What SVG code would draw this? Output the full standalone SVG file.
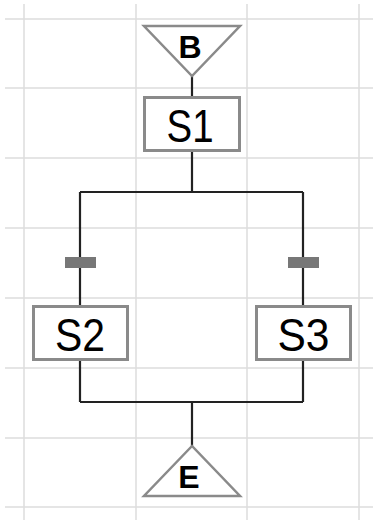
<svg xmlns="http://www.w3.org/2000/svg" width="373" height="520" viewBox="0 0 373 520">
<style>
.grid line{stroke:#dcdcdc;stroke-width:1.5}
.step{fill:#fff;stroke:#8a8a8a;stroke-width:3}
.term{fill:#fff;stroke:#8a8a8a;stroke-width:2.5;stroke-linejoin:miter}
.lbl{font-family:"Liberation Sans",Arial,sans-serif;font-size:46px;fill:#000;text-anchor:middle}
.tl{font-family:"Liberation Sans",Arial,sans-serif;font-size:32px;font-weight:bold;fill:#000;text-anchor:middle}
.conn{stroke:#222;stroke-width:2.2;fill:none}
.bar{fill:#777}
</style>
<rect width="373" height="520" fill="#fff"/>
<g class="grid">
<line x1="24" y1="4" x2="24" y2="520"/>
<line x1="136" y1="4" x2="136" y2="520"/>
<line x1="247" y1="4" x2="247" y2="520"/>
<line x1="359" y1="4" x2="359" y2="520"/>
<line x1="5" y1="19" x2="373" y2="19"/>
<line x1="5" y1="88" x2="373" y2="88"/>
<line x1="5" y1="158" x2="373" y2="158"/>
<line x1="5" y1="228" x2="373" y2="228"/>
<line x1="5" y1="298" x2="373" y2="298"/>
<line x1="5" y1="368" x2="373" y2="368"/>
<line x1="5" y1="438" x2="373" y2="438"/>
<line x1="5" y1="507" x2="373" y2="507"/>
</g>
<g id="connectors">
<path class="conn" d="M192 76V97"/>
<path class="conn" d="M192 151V192M80 192H303M80 192V306M303 192V306"/>
<path class="conn" d="M80 360V402M303 360V402M80 402H303M192 402V446"/>
<rect class="bar" x="65" y="257" width="31" height="11"/>
<rect class="bar" x="288" y="257" width="31" height="11"/>
</g>
<g id="B">
<polygon class="term" points="144,26 240,26 192,76"/>
<text class="tl" x="190" y="58">B</text>
</g>
<g id="S1">
<rect class="step" x="144.5" y="97.5" width="95" height="53"/>
<text class="lbl" x="190" y="142" textLength="47" lengthAdjust="spacingAndGlyphs">S1</text>
</g>
<g id="S2">
<rect class="step" x="33.5" y="306.5" width="94" height="53"/>
<text class="lbl" x="80" y="351" textLength="50" lengthAdjust="spacingAndGlyphs">S2</text>
</g>
<g id="S3">
<rect class="step" x="256.5" y="306.5" width="94" height="53"/>
<text class="lbl" x="303.5" y="351" textLength="52" lengthAdjust="spacingAndGlyphs">S3</text>
</g>
<g id="E">
<polygon class="term" points="192,446 144,496 240,496"/>
<text class="tl" x="189" y="488">E</text>
</g>
</svg>
